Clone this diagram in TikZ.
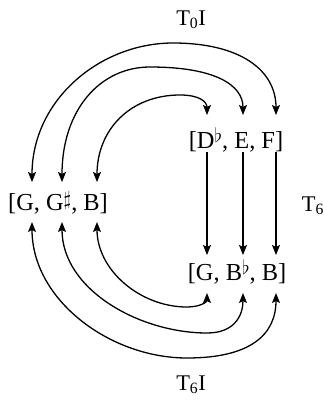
\documentclass[tikz,border=0pt]{standalone}
\usepackage{fontspec}
\setmainfont{Liberation Serif}
\usepackage{graphicx}
\usepackage{tikz}
\usetikzlibrary{arrows.meta, positioning, calc}

\newcommand{\fl}{\raisebox{0.55ex}{\scalebox{0.8}{$\flat$}}}
\newcommand{\shp}{\raisebox{0.45ex}{\scalebox{0.8}{$\sharp$}}}

\begin{document}
\begin{tikzpicture}[
  x=1bp, y=-1bp,
  setnode/.style={inner sep=0pt, font=\fontsize{24.5}{28}\selectfont},
  lbl/.style={inner sep=0pt, font=\fontsize{22.5}{26}\selectfont},
  arc/.style={black, line width=1.3pt},
  tip/.style={-{Stealth[length=10bp, width=8bp, inset=2bp]}},
  dtip/.style={{Stealth[length=10bp, width=8bp, inset=2bp]}-{Stealth[length=10bp, width=8bp, inset=2bp]}}
]
  \useasboundingbox (0,0) rectangle (324,405);
  % the three sets
  \node[setnode] (lset) at (58,203) {[G, G\shp, B]};
  \node[setnode] (tset) at (236,140) {[D\fl, E, F]};
  \node[setnode] (bset) at (237,272) {[G, B\fl, B]};
  % labels
  \node[lbl] (toi) at (191,20) {T\textsubscript{0}I};
  \node[lbl] (tsix) at (313,206) {T\textsubscript{6}};
  \node[lbl] (tsixi) at (191,385) {T\textsubscript{6}I};
  % arrow ends
  \foreach \n/\x in {1/32, 2/62, 3/97}{
    \coordinate (la\n) at (\x,182);
    \coordinate (lb\n) at (\x,222);
  }
  \foreach \n/\x in {1/207, 2/243, 3/276}{
    \coordinate (ta\n) at (\x,115);
    \coordinate (tb\n) at (\x,152);
    \coordinate (ba\n) at (\x,255);
    \coordinate (bb\n) at (\x,293);
  }
  % T6
  \foreach \n in {1,2,3}{
    \draw[arc, tip] (tb\n) -- (ba\n);
  }
  % T0I
  \draw[arc, dtip] (la1) .. controls (32,100) and (100,43) .. (173,43)
    .. controls (240,43) and (276,70) .. (ta3);
  \draw[arc, dtip] (la2) .. controls (62,110) and (100,67) .. (150,67)
    .. controls (215,67) and (243,85) .. (ta2);
  \draw[arc, dtip] (la3) .. controls (97,130) and (130,95) .. (180,95)
    .. controls (200,95) and (207,102) .. (ta1);
  % T6I
  \draw[arc, dtip] (lb1) .. controls (32,300) and (110,358) .. (187,358)
    .. controls (250,358) and (276,335) .. (bb3);
  \draw[arc, dtip] (lb2) .. controls (62,290) and (140,333) .. (207,333)
    .. controls (235,333) and (243,315) .. (bb2);
  \draw[arc, dtip] (lb3) .. controls (97,270) and (140,307) .. (187,307)
    .. controls (200,307) and (207,302) .. (bb1);
\end{tikzpicture}
\end{document}
